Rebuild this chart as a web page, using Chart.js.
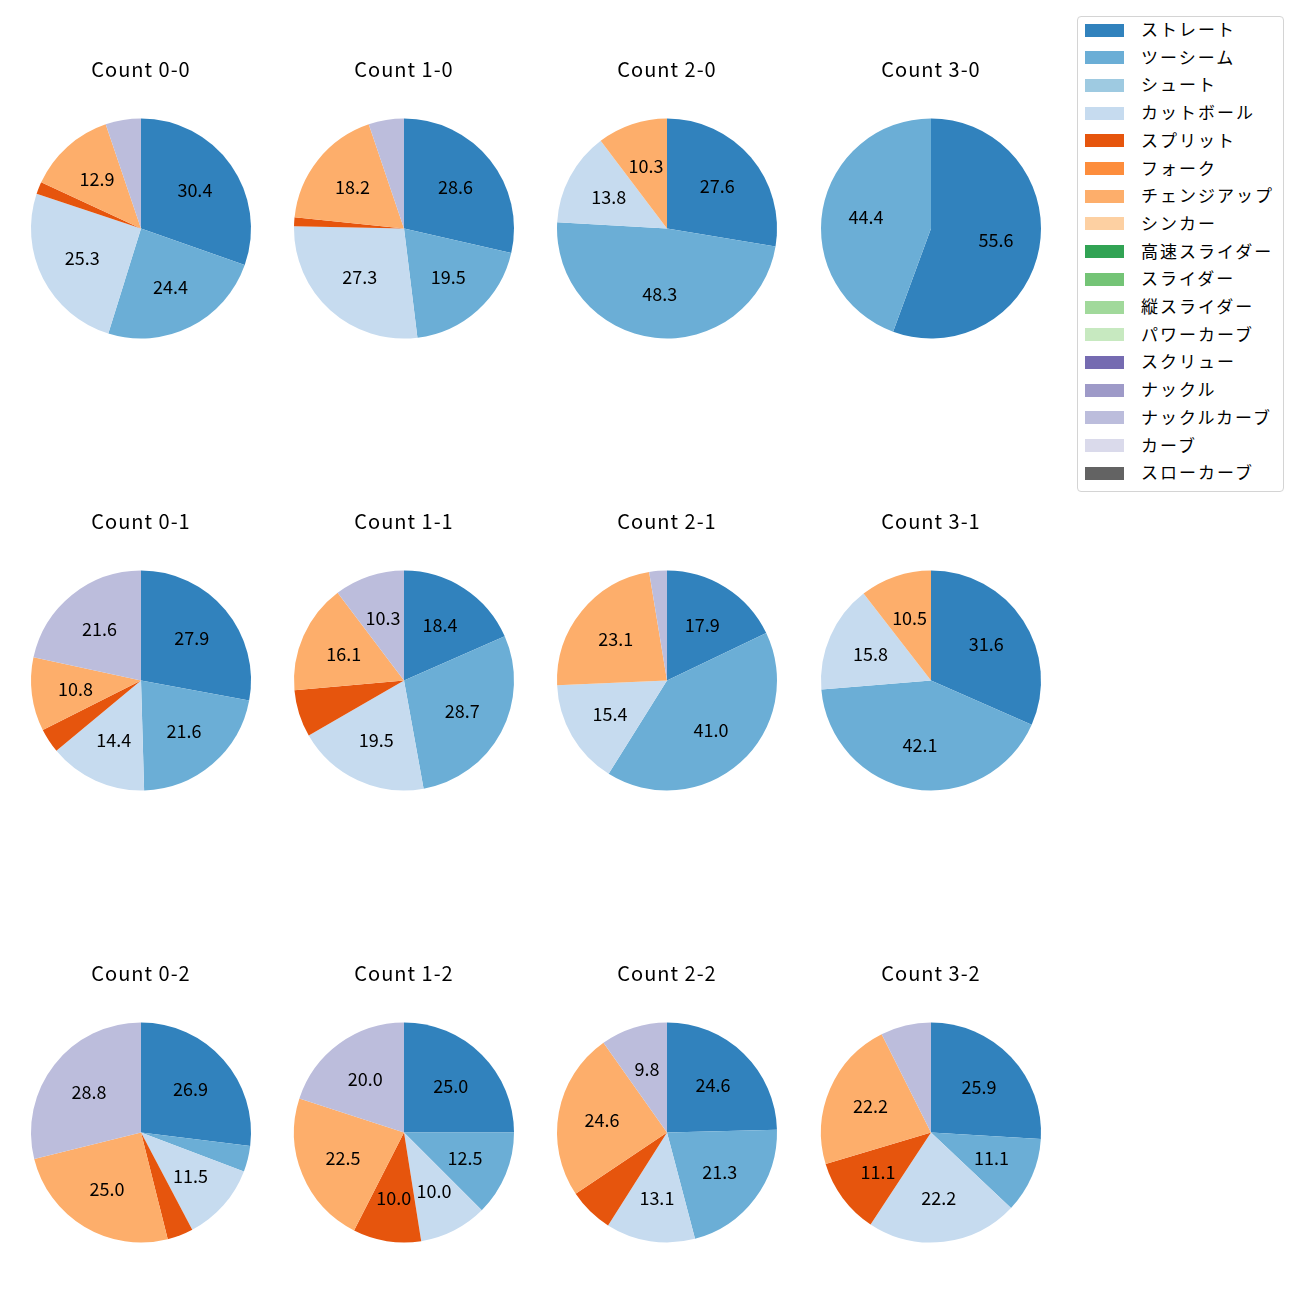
<!DOCTYPE html>
<html>
<head>
<meta charset="utf-8">
<script src="https://cdn.jsdelivr.net/npm/chart.js@4.4.1/dist/chart.umd.min.js"></script>
<style>
  html, body { margin: 0; padding: 0; background: #fff; }
  #wrap { position: relative; width: 1300px; height: 1300px; overflow: hidden; }
  .pie { position: absolute; }
  #legend { position: absolute; left: 1077px; top: 16px; width: 207px; height: 476px;
            border: 1px solid #d4d4d4; border-radius: 4px; background: #fff; box-sizing: border-box; }
  .lrow { position: absolute; left: 0; height: 20px; width: 200px; }
  .lpatch { position: absolute; left: 7px; width: 39px; height: 13px; }
  .ltext { position: absolute; left: 63px; font-family: "Noto Sans CJK JP", "Noto Sans", sans-serif;
           font-size: 17px; letter-spacing: 2px; color: #000; white-space: nowrap; line-height: 20px; top: -11px; }
</style>
</head>
<body>
<div id="wrap"><div id="legend"></div></div>
<script>
// Pitch types (legend order) and their colours
const pitchTypes = ["ストレート","ツーシーム","シュート","カットボール","スプリット","フォーク","チェンジアップ","シンカー","高速スライダー","スライダー","縦スライダー","パワーカーブ","スクリュー","ナックル","ナックルカーブ","カーブ","スローカーブ"];
const pitchColors = ["#3182bd","#6baed6","#9ecae1","#c6dbef","#e6550d","#fd8d3c","#fdae6b","#fdd0a2","#31a354","#74c476","#a1d99b","#c7e9c0","#756bb1","#9e9ac8","#bcbddc","#dadaeb","#636363"];

// Share (%) of each pitch type per count, indexed like pitchTypes
const c00 = [30.4,24.4,0,25.3,1.8,0,12.9,0,0,0,0,0,0,0,5.2,0,0];
const c10 = [28.6,19.5,0,27.3,1.3,0,18.2,0,0,0,0,0,0,0,5.2,0,0];
const c20 = [27.6,48.3,0,13.8,0,0,10.3,0,0,0,0,0,0,0,0,0,0];
const c30 = [55.6,44.4,0,0,0,0,0,0,0,0,0,0,0,0,0,0,0];
const c01 = [27.9,21.6,0,14.4,3.6,0,10.8,0,0,0,0,0,0,0,21.6,0,0];
const c11 = [18.4,28.7,0,19.5,6.9,0,16.1,0,0,0,0,0,0,0,10.3,0,0];
const c21 = [17.9,41.0,0,15.4,0,0,23.1,0,0,0,0,0,0,0,2.6,0,0];
const c31 = [31.6,42.1,0,15.8,0,0,10.5,0,0,0,0,0,0,0,0,0,0];
const c02 = [26.9,3.8,0,11.5,3.8,0,25.0,0,0,0,0,0,0,0,28.8,0,0];
const c12 = [25.0,12.5,0,10.0,10.0,0,22.5,0,0,0,0,0,0,0,20.0,0,0];
const c22 = [24.6,21.3,0,13.1,6.6,0,24.6,0,0,0,0,0,0,0,9.8,0,0];
const c32 = [25.9,11.1,0,22.2,11.1,0,22.2,0,0,0,0,0,0,0,7.4,0,0];

const countTitles = ["Count 0-0","Count 1-0","Count 2-0","Count 3-0",
                     "Count 0-1","Count 1-1","Count 2-1","Count 3-1",
                     "Count 0-2","Count 1-2","Count 2-2","Count 3-2"];
const countData = [c00,c10,c20,c30,c01,c11,c21,c31,c02,c12,c22,c32];
const labelMin = 8;

// layout
const colCenters = [141, 404, 667, 931];
const rowTitleY = [69, 521, 973];
const R = 110;
const FONT = '"Noto Sans CJK JP", "Noto Sans", sans-serif';

const spacing = {
  id: 'spacing',
  beforeDraw(chart) { chart.ctx.letterSpacing = '1px'; }
};

const pctLabels = {
  id: 'pctLabels',
  afterDatasetsDraw(chart) {
    const ctx = chart.ctx;
    const meta = chart.getDatasetMeta(0);
    const vals = chart.data.datasets[0].data;
    ctx.save();
    ctx.letterSpacing = '0px';
    ctx.font = '18px ' + FONT;
    ctx.fillStyle = '#000';
    ctx.textAlign = 'center';
    ctx.textBaseline = 'middle';
    meta.data.forEach((arc, i) => {
      const v = vals[i];
      if (!v || v < labelMin) return;
      const p = arc.getProps(['x','y','startAngle','endAngle','outerRadius'], true);
      const a = (p.startAngle + p.endAngle) / 2;
      const r = p.outerRadius * 0.6;
      ctx.fillText(v.toFixed(1), p.x + Math.cos(a) * r, p.y + Math.sin(a) * r);
    });
    ctx.restore();
  }
};

const wrap = document.getElementById('wrap');
countData.forEach((vals, k) => {
  const col = k % 4, row = Math.floor(k / 4);
  const cx = colCenters[col];
  const ty = rowTitleY[row];
  const top = ty - 12;
  const holder = document.createElement('div');
  holder.className = 'pie';
  holder.style.left = (cx - 131) + 'px';
  holder.style.top = top + 'px';
  const cv = document.createElement('canvas');
  cv.width = 262; cv.height = 282;
  cv.style.width = '262px'; cv.style.height = '282px';
  holder.appendChild(cv);
  wrap.appendChild(holder);
  const chartAreaTop = ty + 159 - R;
  const titleBottomPad = chartAreaTop - (top + 24);
  new Chart(cv, {
    type: 'pie',
    data: {
      labels: pitchTypes,
      datasets: [{ data: vals, backgroundColor: pitchColors, borderWidth: 0 }]
    },
    options: {
      responsive: false,
      animation: false,
      devicePixelRatio: 1,
      layout: { padding: { left: 21, right: 21, top: 0, bottom: 0 } },
      plugins: {
        legend: { display: false },
        tooltip: { enabled: false },
        title: {
          display: true, text: countTitles[k], color: '#000',
          font: { family: FONT, size: 20, weight: 'normal', lineHeight: 1.2 },
          padding: { top: 0, bottom: titleBottomPad }
        }
      }
    },
    plugins: [spacing, pctLabels]
  });
});

// legend
const legend = document.getElementById('legend');
pitchTypes.forEach((name, i) => {
  const row = document.createElement('div');
  row.className = 'lrow';
  row.style.top = (29 - 16 + i * 27.7) + 'px';
  const patch = document.createElement('div');
  patch.className = 'lpatch';
  patch.style.background = pitchColors[i];
  patch.style.top = '-6.5px';
  const txt = document.createElement('div');
  txt.className = 'ltext';
  txt.textContent = name;
  row.appendChild(patch); row.appendChild(txt);
  legend.appendChild(row);
});
</script>
</body>
</html>
